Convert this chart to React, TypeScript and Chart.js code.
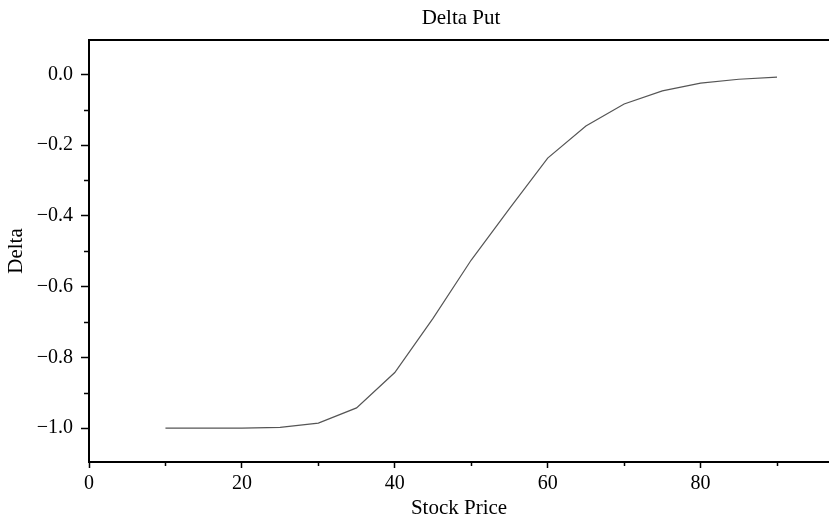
import { useEffect, useRef } from "react";
import { Chart, registerables } from "chart.js";

Chart.register(...registerables);

const TITLE = "Delta Put";
const X_LABEL = "Stock Price";
const Y_LABEL = "Delta";

const STOCK_PRICES = [10, 15, 20, 25, 30, 35, 40, 45, 50, 55, 60, 65, 70, 75, 80, 85, 90];
const DELTA_VALUES = [
  -1.0, -1.0, -1.0, -0.998, -0.986, -0.943, -0.843, -0.69, -0.525, -0.38, -0.237, -0.146,
  -0.084, -0.047, -0.025, -0.014, -0.008,
];

const X_TICKS = [0, 20, 40, 60, 80];
const X_MINOR_TICKS = [10, 30, 50, 70, 90];
const Y_TICKS = [0, -0.2, -0.4, -0.6, -0.8, -1.0];
const Y_MINOR_TICKS = [-0.1, -0.3, -0.5, -0.7, -0.9];

const X_MIN = 0;
const X_MAX = 96.8;
const Y_MIN = -1.096;
const Y_MAX = 0.097;

const FONT = "'Liberation Serif', 'DejaVu Serif', serif";

function formatY(v: number): string {
  const r = Math.round(v * 10) / 10;
  if (r === 0) return "0.0";
  return (r < 0 ? "\u2212" : "") + Math.abs(r).toFixed(1);
}

const decorPlugin = {
  id: "decor",
  afterDraw(chart: any) {
    const { ctx, chartArea } = chart;
    const { left, right, top, bottom } = chartArea;
    const xs = chart.scales.x;
    const ys = chart.scales.y;
    ctx.save();
    ctx.strokeStyle = "#000";
    ctx.lineWidth = 2;
    ctx.beginPath();
    ctx.moveTo(left - 1, top);
    ctx.lineTo(right, top);
    ctx.stroke();
    ctx.lineWidth = 1.5;
    for (const v of X_MINOR_TICKS) {
      const px = Math.round(xs.getPixelForValue(v)) + 0.5;
      ctx.beginPath();
      ctx.moveTo(px, bottom);
      ctx.lineTo(px, bottom + 4);
      ctx.stroke();
    }
    for (const v of Y_MINOR_TICKS) {
      const py = Math.round(ys.getPixelForValue(v)) + 0.5;
      ctx.beginPath();
      ctx.moveTo(left, py);
      ctx.lineTo(left - 5, py);
      ctx.stroke();
    }
    ctx.fillStyle = "#000";
    ctx.font = `21px ${FONT}`;
    ctx.textAlign = "center";
    ctx.textBaseline = "alphabetic";
    ctx.fillText(TITLE, (left + right) / 2 + 2, 24);
    ctx.restore();
  },
};

export default function App() {
  const canvasRef = useRef<HTMLCanvasElement | null>(null);

  useEffect(() => {
    const canvas = canvasRef.current;
    if (!canvas) return;
    const chart = new Chart(canvas, {
      type: "line",
      data: {
        datasets: [
          {
            data: STOCK_PRICES.map((x, i) => ({ x, y: DELTA_VALUES[i] })),
            borderColor: "#555555",
            borderWidth: 1.2,
            pointRadius: 0,
            tension: 0,
            fill: false,
          },
        ],
      },
      options: {
        responsive: false,
        animation: false,
        layout: { padding: { top: 40, left: 0, right: 0, bottom: 0 } },
        plugins: {
          legend: { display: false },
          tooltip: { enabled: false },
          title: { display: false },
        },
        scales: {
          x: {
            type: "linear",
            min: X_MIN,
            max: X_MAX,
            afterBuildTicks: (scale: any) => {
              scale.ticks = X_TICKS.map((v) => ({ value: v }));
            },
            afterFit: (scale: any) => {
              scale.height = 59;
            },
            grid: {
              display: true,
              drawOnChartArea: false,
              drawTicks: true,
              tickLength: 6,
              tickColor: "#000",
              tickWidth: 1.5,
            },
            border: { display: true, color: "#000", width: 2 },
            ticks: {
              autoSkip: false,
              maxRotation: 0,
              padding: 4,
              color: "#000",
              font: { family: FONT, size: 20 },
              callback: (v: any) => String(v),
            },
            title: {
              display: true,
              text: X_LABEL,
              color: "#000",
              font: { family: FONT, size: 21 },
              padding: { top: 0, bottom: 0 },
            },
          },
          y: {
            type: "linear",
            min: Y_MIN,
            max: Y_MAX,
            afterBuildTicks: (scale: any) => {
              scale.ticks = Y_TICKS.map((v) => ({ value: v }));
            },
            afterFit: (scale: any) => {
              scale.width = 89;
            },
            grid: {
              display: true,
              drawOnChartArea: false,
              drawTicks: true,
              tickLength: 8,
              tickColor: "#000",
              tickWidth: 1.5,
            },
            border: { display: true, color: "#000", width: 2 },
            ticks: {
              autoSkip: false,
              padding: 8,
              color: "#000",
              font: { family: FONT, size: 20 },
              callback: (v: any) => formatY(Number(v)),
            },
            title: {
              display: true,
              text: Y_LABEL,
              color: "#000",
              font: { family: FONT, size: 21 },
              padding: { top: 4, bottom: 0 },
            },
          },
        },
      },
      plugins: [decorPlugin],
    });
    return () => chart.destroy();
  }, []);

  return (
    <div style={{ position: "fixed", left: 0, top: 0, width: 829, height: 521, background: "#fff" }}>
      <canvas ref={canvasRef} width={829} height={521} />
    </div>
  );
}
